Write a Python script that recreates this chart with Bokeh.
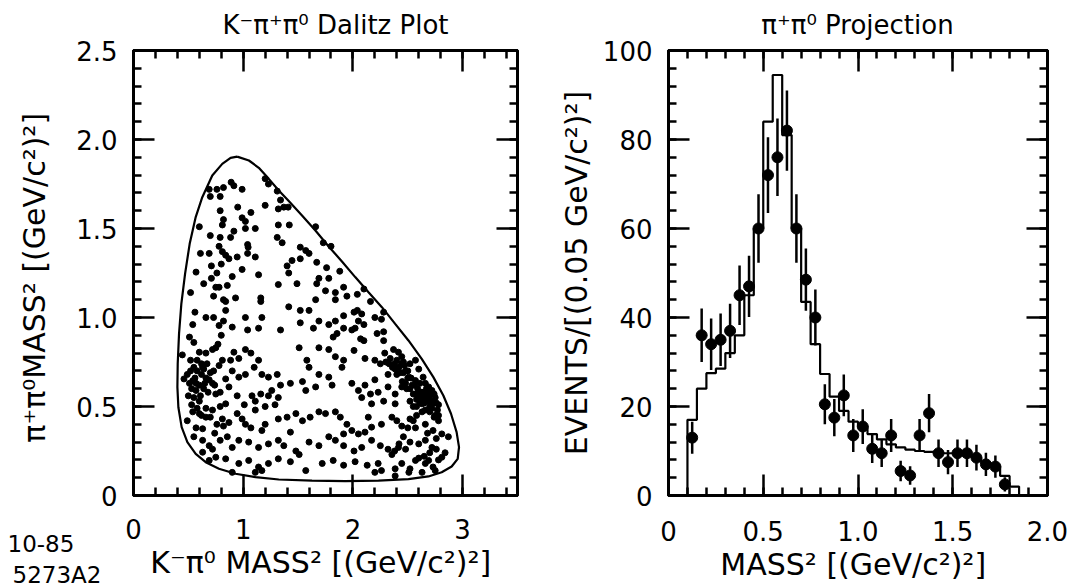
from bokeh.plotting import figure
from bokeh.layouts import row, column
from bokeh.models import (LinearAxis, SingleIntervalTicker, Range1d, CustomJSTickFormatter, GridBox)
from bokeh.core.properties import value
from bokeh.embed import file_html
from bokeh.resources import INLINE

FONT = "DejaVu Sans"

# ---------------- Dalitz plot data (K- pi0 mass^2, pi+ pi0 mass^2) ----------------
dalitz_events = [
    (0.89, 1.76), (0.99, 1.72), (0.915, 1.74), (0.69, 1.72), (0.76, 1.72), (0.82, 1.73), (0.70, 1.68),
    (0.79, 1.68), (1.20, 1.78), (1.23, 1.75), (1.31, 1.71), (1.32, 1.61), (1.37, 1.62), (1.41, 1.62),
    (1.34, 1.66), (1.20, 1.63), (0.79, 1.60), (0.82, 1.55), (0.81, 1.52), (0.99, 1.56), (1.02, 1.54),
    (1.07, 1.59), (0.95, 1.62), (0.60, 1.51), (0.70, 1.46), (0.79, 1.45), (0.885, 1.45), (0.915, 1.485),
    (1.02, 1.50), (1.11, 1.50), (1.32, 1.52), (1.42, 1.52), (1.66, 1.51),
    (1.04, 1.41), (1.045, 1.395), (1.31, 1.45), (1.355, 1.42), (1.52, 1.395), (1.57, 1.376), (1.60, 1.36),
    (1.73, 1.42), (1.80, 1.40), (0.61, 1.36), (0.69, 1.36), (0.81, 1.37), (0.84, 1.35), (0.87, 1.33),
    (0.945, 1.34), (1.04, 1.36), (1.11, 1.34), (0.57, 1.255), (0.71, 1.29), (0.99, 1.27), (1.14, 1.24),
    (1.40, 1.29), (1.445, 1.32), (1.52, 1.33), (1.67, 1.31), (1.76, 1.28), (1.88, 1.26), (1.415, 1.25),
    (1.69, 1.22), (1.78, 1.22), (0.64, 1.19), (0.71, 1.22), (0.75, 1.17), (0.78, 1.17), (0.855, 1.18),
    (0.90, 1.23), (1.32, 1.185), (1.49, 1.19), (1.67, 1.19), (1.75, 1.15), (1.84, 1.14), (1.915, 1.17),
    (2.04, 1.13), (2.10, 1.16),
    (0.52, 1.14), (0.73, 1.12), (0.84, 1.09), (0.93, 1.11), (1.16, 1.11), (1.16, 1.09), (1.415, 1.06),
    (1.52, 1.04), (1.60, 1.04), (1.66, 1.10), (1.84, 1.10), (1.945, 1.12), (2.04, 1.04), (2.08, 1.02),
    (2.16, 1.09), (2.28, 1.03), (0.56, 1.03), (0.66, 1.00), (0.73, 1.00), (0.82, 0.98), (0.84, 1.04),
    (1.02, 1.00), (1.17, 1.00), (1.04, 0.93), (1.14, 0.94), (1.34, 0.93), (1.52, 0.97), (1.64, 0.94),
    (1.69, 0.98), (1.78, 0.96), (1.84, 0.98), (1.915, 1.01), (2.01, 1.03), (2.05, 0.98), (2.10, 0.96),
    (2.20, 1.00), (2.26, 0.99), (0.54, 0.96), (0.55, 0.86), (0.51, 0.89), (0.78, 0.955), (0.90, 0.946),
    (1.82, 0.89), (1.855, 0.91), (1.915, 0.94), (1.99, 0.93), (2.02, 0.94), (2.07, 0.88), (2.10, 0.87),
    (2.22, 0.91), (2.28, 0.92), (2.28, 0.87),
    (0.445, 0.79), (0.52, 0.76), (0.60, 0.805), (0.66, 0.80), (0.72, 0.82), (0.75, 0.83), (0.67, 0.74),
    (0.63, 0.72), (0.64, 0.71), (0.73, 0.70), (0.78, 0.73), (0.81, 0.76), (0.885, 0.76), (0.915, 0.805),
    (0.96, 0.77), (1.02, 0.82), (1.07, 0.80), (1.14, 0.76), (1.10, 0.72), (1.17, 0.68), (1.23, 0.665),
    (1.31, 0.68), (1.02, 0.68), (0.96, 0.665), (0.90, 0.70), (0.84, 0.655), (0.49, 0.68), (0.54, 0.645),
    (0.46, 0.655),
    (1.51, 0.83), (1.58, 0.76), (1.69, 0.83), (1.78, 0.82), (1.84, 0.78), (1.915, 0.76), (1.90, 0.72),
    (2.01, 0.815), (2.11, 0.77), (2.20, 0.76), (2.25, 0.74), (2.29, 0.80), (2.37, 0.82), (2.415, 0.805),
    (2.445, 0.78), (2.46, 0.75), (2.385, 0.71), (2.32, 0.68), (2.40, 0.68), (2.48, 0.70), (2.51, 0.665),
    (2.52, 0.74), (2.57, 0.76), (2.60, 0.71), (2.57, 0.646), (2.64, 0.665), (2.66, 0.63), (2.69, 0.61),
    (2.72, 0.59), (2.75, 0.55), (2.76, 0.52), (2.69, 0.53), (2.63, 0.515), (2.60, 0.55), (2.52, 0.53),
    (2.55, 0.50), (2.66, 0.48), (2.70, 0.50), (2.78, 0.51), (1.60, 0.72), (1.69, 0.68), (1.78, 0.665),
    (1.81, 0.62), (1.66, 0.61), (1.54, 0.64), (1.43, 0.63), (1.34, 0.62), (1.57, 0.59), (1.99, 0.63),
    (2.05, 0.59), (2.11, 0.62), (2.20, 0.65), (2.08, 0.55), (2.16, 0.57), (2.23, 0.58), (2.32, 0.61),
    (2.445, 0.61), (2.385, 0.57), (2.28, 0.53), (2.17, 0.515), (2.385, 0.515),
    (0.51, 0.63), (0.57, 0.59), (0.55, 0.55), (0.60, 0.53), (0.64, 0.60), (0.72, 0.63), (0.75, 0.57),
    (0.79, 0.58), (0.87, 0.61), (0.945, 0.56), (1.01, 0.51), (1.08, 0.56), (1.11, 0.53), (1.16, 0.57),
    (1.23, 0.56), (1.26, 0.59), (1.32, 0.55), (1.29, 0.51), (1.20, 0.50), (1.11, 0.48), (0.945, 0.46),
    (0.84, 0.515), (0.79, 0.50), (0.72, 0.48), (0.66, 0.49), (0.60, 0.46), (0.54, 0.47),
    (0.49, 0.42), (0.57, 0.38), (0.63, 0.375), (0.66, 0.44), (0.81, 0.43), (0.82, 0.39), (0.87, 0.41),
    (0.99, 0.43), (1.02, 0.40), (1.07, 0.38), (1.17, 0.365), (1.20, 0.40), (1.32, 0.43), (1.40, 0.44),
    (1.43, 0.356), (1.48, 0.46), (1.54, 0.42), (1.61, 0.44), (1.69, 0.47), (1.75, 0.46), (1.84, 0.47),
    (1.885, 0.44), (1.945, 0.40), (1.99, 0.365), (1.915, 0.346), (2.05, 0.346), (2.11, 0.356), (2.14, 0.44),
    (2.17, 0.384), (2.26, 0.40), (2.355, 0.44), (2.40, 0.42), (2.445, 0.39), (2.52, 0.43), (2.57, 0.38),
    (2.66, 0.40), (2.73, 0.365), (2.81, 0.346), (2.87, 0.33), (2.75, 0.45), (2.78, 0.42),
    (0.55, 0.33), (0.63, 0.31), (0.69, 0.28), (0.72, 0.26), (0.79, 0.31), (0.855, 0.33), (0.90, 0.27),
    (0.96, 0.31), (1.05, 0.30), (1.14, 0.27), (1.23, 0.29), (1.32, 0.31), (1.37, 0.28), (1.48, 0.25),
    (1.51, 0.23), (1.60, 0.30), (1.69, 0.28), (1.78, 0.33), (1.84, 0.31), (1.915, 0.28), (2.01, 0.25),
    (2.08, 0.27), (2.17, 0.31), (2.25, 0.28), (2.32, 0.26), (2.355, 0.23), (2.415, 0.27), (2.48, 0.26),
    (2.52, 0.30), (2.60, 0.29), (2.66, 0.31), (2.72, 0.27), (2.76, 0.26), (2.81, 0.215), (2.84, 0.24),
    (2.69, 0.197), (2.73, 0.16), (2.75, 0.14), (2.66, 0.18), (2.57, 0.197), (2.52, 0.15), (2.445, 0.18),
    (2.385, 0.15), (2.23, 0.18), (2.13, 0.17), (2.02, 0.19), (1.915, 0.17), (1.82, 0.197), (1.72, 0.18),
    (1.57, 0.14), (1.43, 0.19), (1.32, 0.206), (1.23, 0.18), (1.14, 0.16), (1.05, 0.197), (0.96, 0.18),
    (0.90, 0.13), (0.84, 0.206), (0.75, 0.215), (0.69, 0.197), (0.63, 0.243), (1.11, 0.13), (1.17, 0.14),
    (2.20, 0.13), (2.26, 0.14), (2.385, 0.11), (2.51, 0.13), (2.63, 0.13),
    (2.62, 0.55), (2.65, 0.52), (2.68, 0.56), (2.71, 0.53), (2.74, 0.57), (2.60, 0.58), (2.58, 0.50),
    (2.63, 0.47), (2.67, 0.60), (2.70, 0.47), (2.56, 0.62), (2.53, 0.66), (2.50, 0.70), (2.47, 0.73),
    (2.44, 0.74), (2.40, 0.76), (2.43, 0.69), (2.36, 0.72), (2.33, 0.74), (2.48, 0.63), (2.52, 0.60),
    (2.55, 0.57), (2.61, 0.63), (2.64, 0.58), (2.72, 0.49), (2.77, 0.48), (2.78, 0.45), (2.74, 0.44),
    (0.55, 0.72), (0.58, 0.70), (0.62, 0.68), (0.66, 0.66), (0.70, 0.69), (0.53, 0.60), (0.57, 0.63),
    (0.61, 0.56), (0.68, 0.58), (0.74, 0.62),
    (2.58, 0.54), (2.61, 0.52), (2.64, 0.55), (2.67, 0.53), (2.70, 0.56), (2.73, 0.52), (2.59, 0.60),
    (2.62, 0.58), (2.66, 0.57), (2.69, 0.58), (2.57, 0.57), (2.54, 0.62), (2.50, 0.66), (2.46, 0.69),
    (2.42, 0.72), (2.38, 0.74), (2.34, 0.77), (2.30, 0.75), (2.45, 0.64), (2.49, 0.60), (2.58, 0.45),
    (2.55, 0.42), (2.50, 0.38), (2.46, 0.33), (2.42, 0.29), (2.38, 0.25), (2.70, 0.24), (2.65, 0.22),
    (2.60, 0.21), (2.78, 0.20), (2.76, 0.32), (2.68, 0.35),
    (0.58, 0.76), (0.62, 0.74), (0.52, 0.70), (0.56, 0.66), (0.60, 0.62), (0.65, 0.63), (0.69, 0.65),
    (0.50, 0.56), (0.53, 0.51), (0.58, 0.49), (0.62, 0.45), (0.70, 0.44), (0.76, 0.40), (0.74, 0.35),
    (0.78, 1.40), (0.80, 1.30), (0.76, 1.25), (0.82, 1.10), (0.80, 0.90), (0.77, 0.85),
]

# Kinematic boundary
boundary_x = [0.945, 1.052, 1.142, 1.233, 1.324, 1.415, 1.536, 1.658, 1.779, 1.90, 2.021, 2.142, 2.264,
              2.385, 2.506, 2.627, 2.733, 2.824, 2.894, 2.945, 2.967, 2.955, 2.90, 2.809, 2.688, 2.506,
              2.233, 1.93, 1.627, 1.324, 1.112, 0.93, 0.779, 0.658, 0.567, 0.491, 0.439, 0.409, 0.40,
              0.403, 0.415, 0.436, 0.47, 0.512, 0.567, 0.627, 0.718, 0.809, 0.885, 0.945]
boundary_y = [1.904, 1.882, 1.841, 1.779, 1.713, 1.654, 1.573, 1.489, 1.399, 1.315, 1.227, 1.142, 1.058,
              0.964, 0.871, 0.768, 0.665, 0.562, 0.459, 0.356, 0.272, 0.206, 0.163, 0.131, 0.107, 0.092,
              0.084, 0.081, 0.084, 0.09, 0.103, 0.122, 0.15, 0.187, 0.234, 0.30, 0.384, 0.496, 0.609,
              0.74, 0.908, 1.077, 1.245, 1.414, 1.564, 1.676, 1.798, 1.863, 1.897, 1.904]

# ---------------- pi+ pi0 projection ----------------
bin_left = [0.10, 0.15, 0.20, 0.25, 0.30, 0.35, 0.40, 0.45, 0.50, 0.55, 0.60, 0.65, 0.70, 0.75, 0.80,
            0.85, 0.90, 0.95, 1.00, 1.05, 1.10, 1.15, 1.20, 1.25, 1.30, 1.35, 1.40, 1.45, 1.50, 1.55,
            1.60, 1.65, 1.70, 1.75, 1.80]
bin_end = 1.85
fit_counts = [17, 24, 27.5, 28.5, 32, 36, 45, 60, 84, 94.5, 81, 60, 43.5, 34, 27.3,
              22.2, 19, 16.6, 15.6, 13.8, 12.6, 11.5, 10.8, 10.3, 10, 9.8, 9.7, 9.5, 9.4, 9.2,
              8.5, 7.4, 6.5, 4.4, 2.0]

point_x = [0.125, 0.175, 0.225, 0.275, 0.325, 0.375, 0.425, 0.475, 0.525, 0.575, 0.625, 0.675, 0.725,
           0.775, 0.825, 0.875, 0.925, 0.975, 1.025, 1.075, 1.125, 1.175, 1.225, 1.275, 1.325, 1.375,
           1.425, 1.475, 1.525, 1.575, 1.625, 1.675, 1.725, 1.775]
point_y = [13, 36, 34, 35, 37, 45, 47, 60, 72, 76, 82, 60, 48.5, 40, 20.5, 17.5, 22.5, 13.5, 15.5,
           10.5, 9.5, 13.5, 5.5, 4.5, 13.5, 18.5, 9.5, 7.5, 9.5, 9.5, 8.5, 7, 6.5, 2.5]
point_err = [3.6, 6.0, 5.8, 5.9, 6.1, 6.7, 6.9, 7.7, 8.5, 8.7, 9.0, 7.7, 7.0, 6.3, 4.5, 4.2, 4.7, 3.7,
             3.9, 3.2, 3.1, 3.7, 2.3, 2.1, 3.7, 4.3, 3.1, 2.7, 3.1, 3.1, 2.9, 2.6, 2.5, 1.6]

panel_titles = ["K\u207b\u03c0\u207a\u03c0\u2070 Dalitz Plot", "\u03c0\u207a\u03c0\u2070 Projection"]
left_xlabel = "K\u207b\u03c0\u2070 MASS\u00b2  [(GeV/c\u00b2)\u00b2]"
left_ylabel = "\u03c0\u207a\u03c0\u2070MASS\u00b2  [(GeV/c\u00b2)\u00b2]"
right_xlabel = "MASS\u00b2  [(GeV/c\u00b2)\u00b2]"
right_ylabel = "EVENTS/[(0.05 GeV/c\u00b2)\u00b2]"
stamp_lines = ["10-85", "5273A2"]

TICK_PX = "26px"
LABEL_PX = "30px"


def style_axis(ax, labelled=True):
    ax.axis_line_width = 3
    ax.axis_line_color = "black"
    ax.major_tick_in = 21
    ax.major_tick_out = 0
    ax.minor_tick_in = 8
    ax.minor_tick_out = 0
    ax.major_tick_line_width = 2.5
    ax.minor_tick_line_width = 2.5
    ax.major_tick_line_color = "black"
    ax.minor_tick_line_color = "black"
    ax.major_label_text_font = FONT
    ax.major_label_text_color = "black"
    ax.axis_label_text_font = FONT
    ax.axis_label_text_font_style = "normal"
    ax.axis_label_text_color = "black"
    ax.axis_label_text_font_size = LABEL_PX
    if labelled:
        ax.major_label_text_font_size = TICK_PX
    else:
        ax.major_label_text_font_size = "1px"
        ax.major_label_standoff = 0


def base_figure(width, xr, yr, left, right, top, bottom, xticker, yticker, xfmt, yfmt):
    p = figure(width=width, height=586, x_range=xr, y_range=yr, output_backend="svg",
               toolbar_location=None, min_border_left=left, min_border_right=right,
               min_border_top=top, min_border_bottom=bottom)
    p.grid.visible = False
    p.outline_line_color = "black"
    p.outline_line_width = 3
    xax = p.below[0]
    yax = p.left[0]
    xax.ticker = xticker
    yax.ticker = yticker
    xax.formatter = CustomJSTickFormatter(code=xfmt)
    yax.formatter = CustomJSTickFormatter(code=yfmt)
    style_axis(xax)
    style_axis(yax)
    blank = CustomJSTickFormatter(code="return '';")
    top_ax = LinearAxis(ticker=xticker, formatter=blank)
    right_ax = LinearAxis(ticker=yticker, formatter=blank)
    style_axis(top_ax, labelled=False)
    style_axis(right_ax, labelled=False)
    p.add_layout(top_ax, "above")
    p.add_layout(right_ax, "right")
    return p, xax, yax


# ---------------- left panel ----------------
p1, p1x, p1y = base_figure(555, Range1d(0, 3.5), Range1d(0, 2.5), 133, 38, 50, 91,
                           SingleIntervalTicker(interval=1, num_minor_ticks=5),
                           SingleIntervalTicker(interval=0.5, num_minor_ticks=5),
                           "return tick.toFixed(0);",
                           "return Math.abs(tick) < 1e-9 ? '0' : tick.toFixed(1);")
p1x.major_label_standoff = 23
p1y.major_label_standoff = 16
p1x.axis_label = left_xlabel
p1y.axis_label = left_ylabel
p1x.axis_label_standoff = 3
p1y.axis_label_standoff = 21

p1.line(boundary_x, boundary_y, line_color="black", line_width=2.2)
p1.scatter([e[0] for e in dalitz_events], [e[1] for e in dalitz_events],
           marker="circle", size=6, color="black")

# ---------------- right panel ----------------
p2, p2x, p2y = base_figure(519, Range1d(0, 2.0), Range1d(0, 100), 111, 27, 50, 89,
                           SingleIntervalTicker(interval=0.5, num_minor_ticks=5),
                           SingleIntervalTicker(interval=20, num_minor_ticks=5),
                           "return Math.abs(tick) < 1e-9 ? '0' : tick.toFixed(1);",
                           "return tick.toFixed(0);")
p2x.major_label_standoff = 25
p2y.major_label_standoff = 16
p2x.axis_label = right_xlabel
p2y.axis_label = right_ylabel
p2x.axis_label_standoff = 3
p2y.axis_label_standoff = 6

step_x = [bin_left[0]] + bin_left + [bin_end]
step_y = [0] + fit_counts + [0]
p2.step(step_x, step_y, mode="after", line_color="black", line_width=2.2)
p2.segment(x0=point_x, y0=[y - e for y, e in zip(point_y, point_err)],
           x1=point_x, y1=[y + e for y, e in zip(point_y, point_err)],
           line_color="black", line_width=2.5)
p2.scatter(point_x, point_y, marker="circle", size=11, color="black")

# ---------------- transparent overlay for the free-standing texts ----------------
ov = figure(width=1074, height=586, x_range=Range1d(0, 1074), y_range=Range1d(586, 0),
            output_backend="svg", toolbar_location=None, min_border=0,
            x_axis_type=None, y_axis_type=None,
            background_fill_color=None, border_fill_color=None, outline_line_color=None)
ov.grid.visible = False
ov.text(x=[335, 857], y=[24, 24], text=panel_titles, text_align="center",
        text_baseline="alphabetic", text_font=value(FONT), text_font_size="26px", text_color="black")
ov.text(x=[7, 12], y=[543, 574], text=stamp_lines, text_align="left",
        text_baseline="alphabetic", text_font=value(FONT), text_font_size="23px", text_color="black")

layout = GridBox(children=[(row(p1, p2), 0, 0), (column(ov), 0, 0)])
open("out.html", "w").write(file_html(layout, INLINE))
